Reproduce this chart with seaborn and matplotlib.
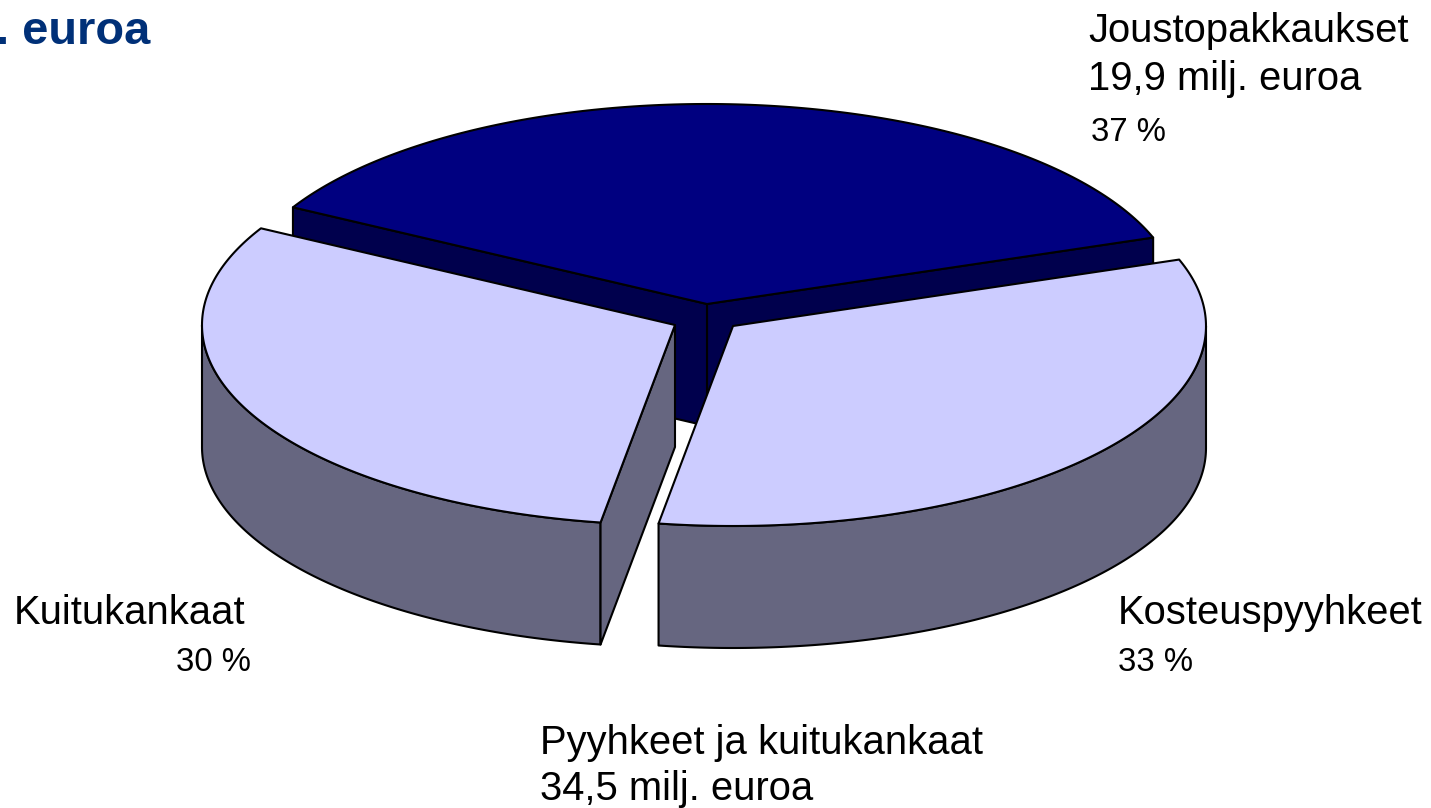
import numpy as np
import matplotlib
matplotlib.use("Agg")
import matplotlib.pyplot as plt
from matplotlib.patches import Polygon
import seaborn as sns

categories = ["Joustopakkaukset", "Kosteuspyyhkeet", "Kuitukankaat"]
shares = [37, 33, 30]
values = [19.9, 17.9, 16.6]
millions_label_a = "19,9 milj. euroa"
millions_label_b = "34,5 milj. euroa"
group_label = "Pyyhkeet ja kuitukankaat"
title_tail = ". euroa"

top_colors = ["#000080", "#CCCCFF", "#CCCCFF"]
side_colors = ["#00004D", "#666680", "#666680"]
centers = [(707, 304), (733, 326), (675, 325)]
RX, RY, DEPTH = 473, 200, 122
START = 19.4

sns.set_theme(style="white")
plt.rcParams["font.family"] = ["Liberation Sans", "DejaVu Sans"]

fig = plt.figure(figsize=(14.31, 8.08), dpi=100, facecolor="white")
ax = fig.add_axes([0, 0, 1, 1])
ax.set_xlim(0, 1431)
ax.set_ylim(808, 0)
ax.axis("off")

EDGE = dict(edgecolor="black", linewidth=1.5, joinstyle="round")


def rim(c, a0, a1, n=160):
    t = np.radians(np.linspace(a0, a1, n))
    return np.column_stack([c[0] + RX * np.cos(t), c[1] - RY * np.sin(t)])


def extrude(pts):
    low = pts[::-1] + np.array([0, DEPTH])
    return np.vstack([pts, low])


# wedge angle ranges from the values
spans = np.array(values) / sum(values) * 360
ranges = [(START, START + spans[0]),
          (START, START - spans[1]),
          (START - spans[1], START - spans[1] - spans[2])]

# back wedge: two inner faces, then the top
c = np.array(centers[0], dtype=float)
back = rim(c, *ranges[0])
for p in (back[0], back[-1]):
    ax.add_patch(Polygon(extrude(np.array([p, c])), facecolor=side_colors[0], **EDGE))
ax.add_patch(Polygon(np.vstack([c, back]), facecolor=top_colors[0], **EDGE))

# right front wedge: outer wall only
c = np.array(centers[1], dtype=float)
a0, a1 = ranges[1]
ax.add_patch(Polygon(extrude(rim(c, 0, a1)), facecolor=side_colors[1], **EDGE))
ax.add_patch(Polygon(np.vstack([c, rim(c, a0, a1)]), facecolor=top_colors[1], **EDGE))

# left front wedge: outer wall, cut face, top
c = np.array(centers[2], dtype=float)
a0, a1 = ranges[2]
ax.add_patch(Polygon(extrude(rim(c, a0, -180)), facecolor=side_colors[2], **EDGE))
p = rim(c, a0, a0, 2)[0]
ax.add_patch(Polygon(extrude(np.array([c, p])), facecolor=side_colors[2], **EDGE))
ax.add_patch(Polygon(np.vstack([c, rim(c, a0, a1)]), facecolor=top_colors[2], **EDGE))

big = dict(fontsize=28.8, color="black", va="baseline", ha="left")
small = dict(fontsize=23.7, color="black", va="baseline", ha="left")

ax.text(-4, 44.5, title_tail, fontsize=33.8, fontweight="bold", color="#003078",
        va="baseline", ha="left", clip_on=False)
ax.text(1088, 42, categories[0], **big)
ax.text(1088, 90.5, millions_label_a, **big)
ax.text(1091, 141, f"{shares[0]} %", **small)
ax.text(1118, 624.5, categories[1], **big)
ax.text(1118, 671, f"{shares[1]} %", **small)
ax.text(14, 624.5, categories[2], **big)
ax.text(176, 671, f"{shares[2]} %", **small)
ax.text(540, 753.5, group_label, **big)
ax.text(540, 799.5, millions_label_b, **big)

fig.savefig("out.png", dpi=100, facecolor="white")
